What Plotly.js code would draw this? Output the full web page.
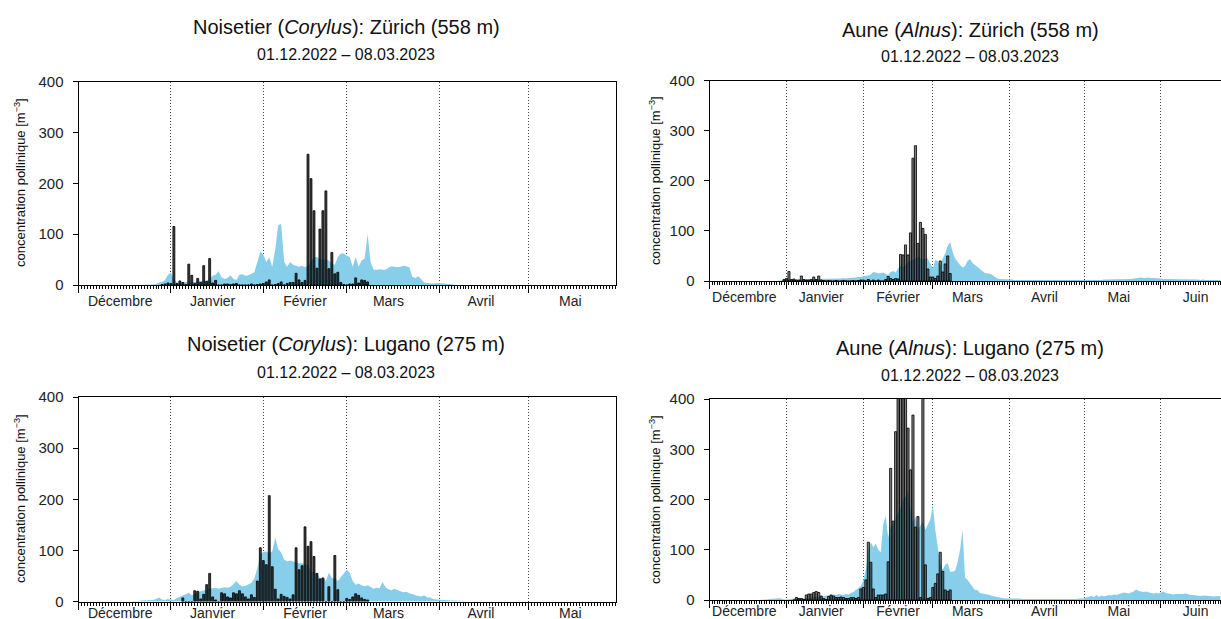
<!DOCTYPE html>
<html>
<head>
<meta charset="utf-8">
<script src="https://cdn.plot.ly/plotly-3.0.1.min.js"></script>
<style>
html,body{margin:0;padding:0;background:#fff;overflow:hidden;}
#chart{width:1221px;height:619px;}
</style>
</head>
<body>
<div id="chart"></div>
<script>
// ---------- DATA ----------
const monthLabels = ['Décembre','Janvier','Février','Mars','Avril','Mai','Juin'];
const monthLabelDates = ['2022-12-15','2023-01-15','2023-02-15','2023-03-15','2023-04-15','2023-05-15','2023-06-15'];
const panelTitles = [
  'Noisetier (<i>Corylus</i>): Zürich (558 m)',
  'Aune (<i>Alnus</i>): Zürich (558 m)',
  'Noisetier (<i>Corylus</i>): Lugano (275 m)',
  'Aune (<i>Alnus</i>): Lugano (275 m)'
];
const periodText = '01.12.2022 – 08.03.2023';
const yTitle = 'concentration pollinique [m<sup>−3</sup>]';

// Corylus Zürich
const corZhAreaStart = '2022-12-20';
const corZhArea = [0,0,0,1,1,1,1,2,5,6,10,20,
  24,12,5,4,5,6,5,6,7,7,8,8,9,12,18,20,27,15,12,14,19,12,10,20,21,18,19,22,25,45,66,
  60,45,54,36,70,118,120,45,36,45,40,38,36,38,35,38,45,55,55,50,50,50,48,42,40,55,62,62,
  58,55,36,55,36,48,52,100,45,30,30,31,30,30,34,37,36,35,36,38,37,35,16,14,17,10,5,4,3,3,4,
  4,4,3,2,1,1,0,0,0,0];
const corZhBarStart = '2022-12-29';
const corZhBars = [1,2,4,
  3,115,3,8,5,1,41,19,3,13,5,38,7,52,4,9,0,0,2,2,1,2,3,0,0,0,0,2,0,1,2,
  3,6,10,0,1,3,6,0,3,5,5,23,10,5,9,257,209,146,33,110,146,185,32,64,22,25,5,1,
  0,2,2,14,4,10,9,6];

// Alnus Zürich
const alnZhAreaStart = '2022-12-28';
const alnZhArea = [0,1,1,2,
  2,2,3,3,2,3,3,3,4,3,3,4,4,4,5,5,4,4,5,5,4,5,5,6,5,6,6,7,7,8,8,
  10,10,11,13,18,17,15,16,17,14,12,18,20,17,25,30,28,32,38,40,42,45,48,45,42,45,45,35,
  25,42,40,30,45,55,70,78,58,45,38,32,27,30,40,44,36,32,28,24,20,16,15,15,12,8,5,4,4,3,4,
  3,3,2,2,2,2,2,2,2,2,1,1,1,1,1,1,1,1,1,1,1,1,1,1,1,1,1,1,1,1,
  1,1,1,1,2,2,2,2,3,3,3,3,4,4,3,3,3,4,4,4,5,6,7,7,6,7,7,6,6,5,5,
  5,4,4,4,4,3,4,4,4,3,3,3,4,3,3,3,2,3,2,2,2,2,2,2,2];
const alnZhBarStart = '2022-12-31';
const alnZhBars = [3,
  5,19,3,4,2,2,10,3,2,2,3,8,3,10,2,1,0,1,0,0,1,0,0,1,0,0,0,1,0,1,2,
  2,0,3,0,2,0,2,0,0,3,9,5,3,5,4,53,52,72,52,96,245,270,75,117,105,93,24,8,
  8,5,10,40,18,34,50,15];

// Corylus Lugano
const corLuAreaStart = '2022-12-18';
const corLuArea = [0,0,1,1,2,2,2,3,3,5,8,4,3,5,
  4,3,7,9,12,14,17,12,14,18,20,22,24,25,26,27,25,26,28,27,29,34,40,33,30,31,34,36,45,65,93,
  97,98,95,98,125,102,96,82,78,80,78,76,75,75,72,72,57,58,54,46,47,40,56,46,45,40,48,55,
  62,56,40,33,35,32,30,32,28,25,27,26,38,28,24,22,25,22,20,18,19,16,14,12,11,10,12,8,8,5,4,
  3,3,3,2,2,2,2,1,1,0];
const corLuBarStart = '2023-01-05';
const corLuBars = [7,0,0,0,21,20,5,14,33,55,9,3,0,17,15,9,7,17,15,21,15,9,5,13,8,40,105,
  80,72,207,68,24,5,14,10,8,5,13,105,62,70,146,108,117,88,55,44,46,0,29,0,90,23,0,0,
  6,4,9,15,12,7,4,3];

// Alnus Lugano
const alnLuAreaStart = '2022-12-20';
const alnLuArea = [0,0,0,0,1,2,2,2,3,4,2,1,
  1,2,2,3,3,4,4,3,4,5,5,6,7,6,7,8,8,9,10,11,10,12,11,10,12,11,14,16,20,24,28,
  40,60,100,115,105,112,100,95,150,167,125,146,150,160,172,185,199,205,219,180,153,166,140,148,156,140,150,160,
  189,140,106,73,60,70,73,56,56,58,75,100,140,45,40,33,25,20,20,14,13,12,12,10,8,7,5,4,3,3,3,
  3,3,3,4,3,2,2,2,2,2,2,2,1,1,2,2,2,2,1,1,1,1,1,2,2,2,2,2,3,3,
  3,5,7,8,6,10,6,9,7,8,10,9,11,10,12,13,15,14,13,15,17,21,18,17,16,17,15,14,13,14,13,
  15,17,14,13,12,11,12,12,11,12,13,11,10,10,9,9,8,9,9,8,8,7,8,8,7];
const alnLuBarStart = '2023-01-04';
const alnLuBars = [0,5,3,3,1,10,12,12,15,17,15,8,3,1,7,10,8,5,5,6,5,3,3,5,5,3,5,22,
  25,40,115,75,22,5,10,10,10,12,76,262,157,335,460,520,480,430,342,259,368,145,166,5,410,70,3,5,
  25,33,52,95,57,20,17,20];

// ---------- HELPERS ----------
function days(start, n){
  const t0 = Date.parse(start + 'T00:00:00Z');
  const out = [];
  for(let i=0;i<n;i++) out.push(new Date(t0 + i*864e5).toISOString().slice(0,10));
  return out;
}
const AREA = '#87CEEB';
function areaTrace(start, vals, xa, ya){
  return {type:'scatter', mode:'lines', x:days(start, vals.length), y:vals, xaxis:xa, yaxis:ya,
    fill:'tozeroy', fillcolor:AREA, line:{width:0, color:AREA}, hoverinfo:'skip'};
}
function barTrace(start, vals, xa, ya, w, fill){
  return {type:'bar', x:days(start, vals.length), y:vals, xaxis:xa, yaxis:ya, width:w*864e5,
    marker:{color:fill, line:{color:'#000', width:0.8}}, hoverinfo:'skip'};
}

// areas on base subplots, bars on overlaying subplots so they sit above the areas
const data = [
  areaTrace(corZhAreaStart, corZhArea, 'x', 'y'),
  areaTrace(alnZhAreaStart, alnZhArea, 'x2', 'y2'),
  areaTrace(corLuAreaStart, corLuArea, 'x3', 'y3'),
  areaTrace(alnLuAreaStart, alnLuArea, 'x4', 'y4'),
  barTrace(corZhBarStart, corZhBars, 'x5', 'y5', 0.65, 'rgba(15,15,15,0.8)'),
  barTrace(alnZhBarStart, alnZhBars, 'x6', 'y6', 0.85, 'rgba(40,40,40,0.6)'),
  barTrace(corLuBarStart, corLuBars, 'x7', 'y7', 0.65, 'rgba(15,15,15,0.8)'),
  barTrace(alnLuBarStart, alnLuBars, 'x8', 'y8', 0.85, 'rgba(40,40,40,0.6)')
];

const W = 1221, H = 619;
const LEFT_END = '2023-05-30 08:00', RIGHT_END = '2023-06-25 05:00';
function xax(l, r, anchor, end){
  return {domain:[l/W, r/W], anchor:anchor, type:'date', range:['2022-12-01', end],
    tick0:'2022-12-01', dtick:'M1', showticklabels:false,
    ticks:'outside', ticklen:7, tickwidth:1, tickcolor:'#000',
    showline:true, linecolor:'#000', linewidth:1, mirror:true,
    showgrid:true, gridcolor:'#444', griddash:'1px,2px', gridwidth:1, zeroline:false,
    minor:{dtick:864e5, tick0:'2022-12-01', ticks:'outside', ticklen:3, tickwidth:1, tickcolor:'#000', showgrid:false},
    fixedrange:true};
}
function yax(top, bot, anchor, mir){
  return {domain:[1-bot/H, 1-top/H], anchor:anchor, range:[0,400], tickvals:[0,100,200,300,400],
    ticks:'outside', ticklen:5, tickwidth:1, tickcolor:'#000', showline:true, linecolor:'#000', linewidth:1,
    mirror:mir, showgrid:false, zeroline:false, tickfont:{size:15, color:'#222'}, ticklabelstandoff:6, fixedrange:true};
}
// overlay x axis: carries the month labels (centred on the 15th) and the bars
function xov(base, l, r, anchor, end, standoff){
  return {overlaying:base, domain:[l/W, r/W], anchor:anchor, type:'date', range:['2022-12-01', end],
    tickmode:'array', tickvals:monthLabelDates, ticktext:monthLabels, ticks:'', showline:false,
    showgrid:false, zeroline:false, tickfont:{size:14, color:'#222'}, ticklabelstandoff:standoff, fixedrange:true};
}
function yov(base, top, bot, anchor){
  return {overlaying:base, domain:[1-bot/H, 1-top/H], anchor:anchor, range:[0,400],
    showticklabels:false, ticks:'', showline:false, showgrid:false, zeroline:false, fixedrange:true};
}

function ann(text, xpx, ypx, size, extra){
  return Object.assign({text:text, xref:'paper', yref:'paper', x:xpx/W, y:1-ypx/H, xanchor:'center', yanchor:'middle',
    showarrow:false, font:{size:size, color:'#111'}}, extra||{});
}

const layout = {
  width:W, height:H, margin:{l:0,r:0,t:0,b:0}, showlegend:false,
  paper_bgcolor:'#fff', plot_bgcolor:'#fff', barmode:'overlay',
  font:{family:'"Liberation Sans", Arial, sans-serif', color:'#222'},
  xaxis: xax(78.5, 616, 'y', LEFT_END),
  yaxis: yax(81.5, 285, 'x', true),
  xaxis2: xax(709.6, 1221, 'y2', RIGHT_END),
  yaxis2: yax(80.5, 281, 'x2', false),
  xaxis3: xax(78.5, 616, 'y3', LEFT_END),
  yaxis3: yax(397, 601.5, 'x3', true),
  xaxis4: xax(709.6, 1221, 'y4', RIGHT_END),
  yaxis4: yax(399, 600, 'x4', false),
  xaxis5: xov('x', 78.5, 616, 'y5', LEFT_END, 6),
  yaxis5: yov('y', 81.5, 285, 'x5'),
  xaxis6: xov('x2', 709.6, 1221, 'y6', RIGHT_END, 6),
  yaxis6: yov('y2', 80.5, 281, 'x6'),
  xaxis7: xov('x3', 78.5, 616, 'y7', LEFT_END, 1),
  yaxis7: yov('y3', 397, 601.5, 'x7'),
  xaxis8: xov('x4', 709.6, 1221, 'y8', RIGHT_END, 1),
  yaxis8: yov('y4', 399, 600, 'x8'),
  annotations: [
    ann(panelTitles[0], 346, 27, 20), ann(periodText, 346, 55, 16),
    ann(panelTitles[1], 970, 30, 20), ann(periodText, 970, 57, 16),
    ann(panelTitles[2], 346, 344, 20), ann(periodText, 346, 372, 16),
    ann(panelTitles[3], 970, 348, 20), ann(periodText, 970, 375, 16),
    ann(yTitle, 20, 183, 13, {textangle:-90}),
    ann(yTitle, 655, 181, 13, {textangle:-90}),
    ann(yTitle, 20, 499, 13, {textangle:-90}),
    ann(yTitle, 655, 500, 13, {textangle:-90})
  ]
};

Plotly.newPlot('chart', data, layout, {staticPlot:true, displayModeBar:false});
</script>
</body>
</html>
